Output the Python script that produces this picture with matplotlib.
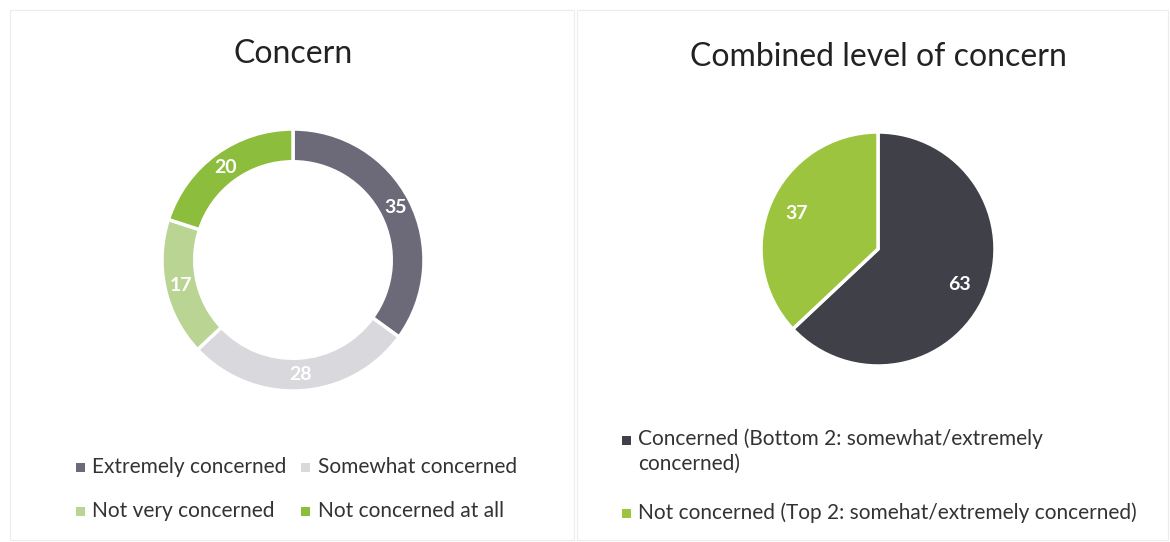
import matplotlib
matplotlib.use("Agg")
import matplotlib.pyplot as plt
from matplotlib.patches import Rectangle
import numpy as np

plt.rcParams['font.family'] = ['Lato', 'DejaVu Sans']

# Data
concern_labels = ["Extremely concerned", "Somewhat concerned", "Not very concerned", "Not concerned at all"]
concern_values = [35, 28, 17, 20]
concern_colors = ["#6c6a78", "#d9d9dd", "#b9d493", "#8dbd3c"]

combined_labels = ["Concerned (Bottom 2: somewhat/extremely\nconcerned)",
                   "Not concerned (Top 2: somehat/extremely concerned)"]
combined_values = [63, 37]
combined_colors = ["#404049", "#9cc43e"]

W, H = 1170, 542
fig = plt.figure(figsize=(W / 100, H / 100), dpi=100)
fig.patch.set_facecolor("white")

def fx(x):
    return x / W

def fy(y):
    return 1 - y / H

# faint panel borders
for (x0, x1) in [(10, 574), (577, 1168)]:
    fig.add_artist(Rectangle((fx(x0), fy(540)), fx(x1 - x0), (530) / H,
                             transform=fig.transFigure, fill=False,
                             edgecolor="#ececec", linewidth=0.8))

# Titles
fig.text(fx(293), fy(54), "Concern", ha="center", va="center", fontsize=23, color="#222222")
fig.text(fx(878), fy(57), "Combined level of concern", ha="center", va="center", fontsize=23, color="#222222")

# Donut
cx, cy, r = 293, 260, 131
ax1 = fig.add_axes([fx(cx - r), fy(cy + r), fx(2 * r), 2 * r / H])
ring_w = 0.25
ax1.pie(concern_values, colors=concern_colors, startangle=90, counterclock=False,
        radius=1, wedgeprops=dict(width=ring_w, edgecolor="white", linewidth=2.5))
tot = sum(concern_values)
ang = 90
for v in concern_values:
    mid = ang - v / tot * 360 / 2
    rr = 1 - ring_w / 2
    ax1.text(rr * np.cos(np.radians(mid)), rr * np.sin(np.radians(mid)), str(v),
             ha="center", va="center", color="white", fontsize=14, fontweight="bold")
    ang -= v / tot * 360
ax1.set_xlim(-1, 1)
ax1.set_ylim(-1, 1)
ax1.set_aspect("equal")
ax1.axis("off")

# Pie
cx2, cy2, r2 = 878, 249, 117
ax2 = fig.add_axes([fx(cx2 - r2), fy(cy2 + r2), fx(2 * r2), 2 * r2 / H])
ax2.pie(combined_values, colors=combined_colors, startangle=90, counterclock=False,
        radius=1, wedgeprops=dict(edgecolor="white", linewidth=2.5),
        labels=[str(v) for v in combined_values], labeldistance=0.76,
        textprops=dict(color="white", fontsize=14, fontweight="bold"))
for t in ax2.texts:
    t.set_ha("center")
    t.set_va("center")
ax2.set_xlim(-1, 1)
ax2.set_ylim(-1, 1)
ax2.set_aspect("equal")
ax2.axis("off")

# Legends (manual)
def legend_item(x, y, color, text, size=9, va="center", ty=None):
    fig.add_artist(Rectangle((fx(x - size / 2), fy(y + size / 2)), fx(size), size / H,
                             transform=fig.transFigure, facecolor=color, edgecolor="none"))
    fig.text(fx(x + 12), fy(y if ty is None else ty), text, ha="left", va=va, fontsize=15,
             color="#333333", linespacing=1.3)

pos_left = [(80, 467), (306, 467), (80, 511), (306, 511)]
for (x, y), c, t in zip(pos_left, concern_colors, concern_labels):
    legend_item(x, y, c, t)

legend_item(626, 440, combined_colors[0], combined_labels[0], va="top", ty=428)
legend_item(626, 513, combined_colors[1], combined_labels[1])

fig.savefig("out.png", dpi=100, facecolor="white")
